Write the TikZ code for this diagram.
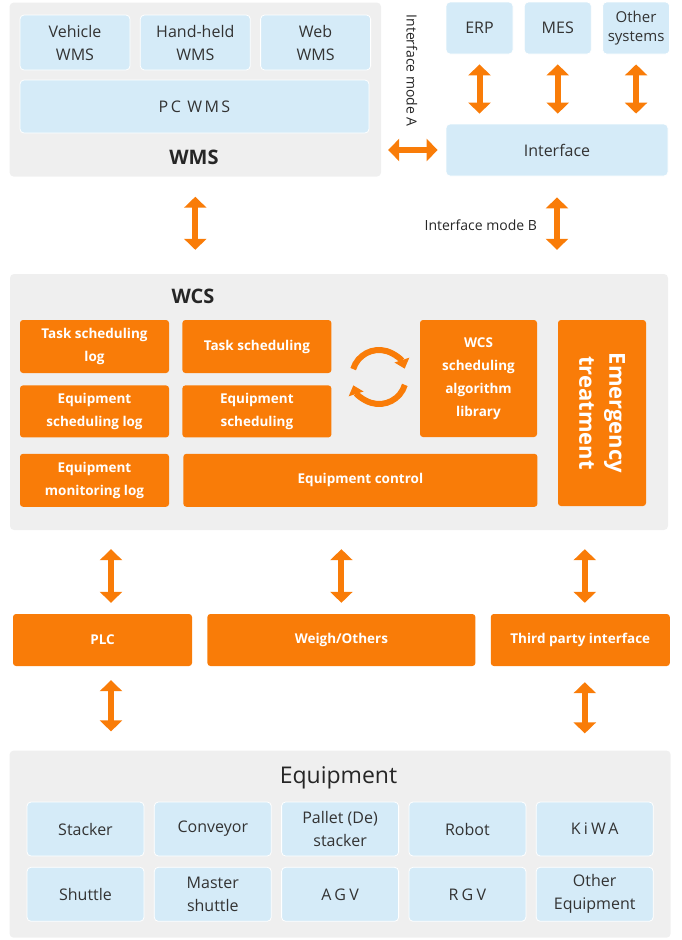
\documentclass[tikz,border=0pt]{standalone}
\usepackage{fontspec}
\setmainfont{Open Sans}
\usepackage{tikz}
\usetikzlibrary{arrows.meta}
\usetikzlibrary{fit,positioning, backgrounds}
\definecolor{paleblue}{HTML}{D5EBF8}
\definecolor{panelgray}{HTML}{EFEFEF}
\definecolor{wcsorange}{HTML}{F97C08}
\definecolor{inktext}{HTML}{333333}

\begin{document}
\begin{tikzpicture}[x=1pt, y=-1pt, node distance=9.5pt]
	\tikzstyle{panel}=[rectangle, rounded corners=4pt, fill=panelgray]
	\tikzstyle{lbox}=[rectangle, rounded corners=4pt, fill=paleblue, draw=white, line width=0.8pt, text=inktext, align=center, inner sep=0pt, font=\fontsize{16}{23}\selectfont]
	\tikzstyle{obox}=[rectangle, rounded corners=3pt, fill=wcsorange, text=white, align=center, inner sep=0pt, font=\bfseries\fontsize{13.5}{23}\selectfont]
	\tikzstyle{paneltitle}=[inner sep=0pt, text=black!85, font=\bfseries\fontsize{20}{24}\selectfont]
	\tikzstyle{modelbl}=[inner sep=0pt, text=black!85, font=\fontsize{14}{16}\selectfont]
	\tikzstyle{dlink}=[{Triangle[width=22pt,length=11pt]}-{Triangle[width=22pt,length=11pt]}, line width=6pt, draw=wcsorange]
	\tikzstyle{cycarrow}=[-{Triangle[width=15pt,length=9pt]}, line width=6pt, draw=wcsorange]
	
	\useasboundingbox (0,0) rectangle (682,940);
	
	% WMS
	\node[lbox, minimum width=110pt, minimum height=55pt] (veh) at (75,42.5) {Vehicle\\WMS};
	\node[lbox, minimum width=110pt, minimum height=55pt] (hand) [right=of veh] {Hand-held\\WMS};
	\node[lbox, minimum width=110pt, minimum height=55pt] (web) [right=of hand] {Web\\WMS};
	\node[lbox, minimum width=349pt, minimum height=53pt] (pc) at (194.5,106.5) {\addfontfeature{LetterSpace=15}PC WMS};
	\node[paneltitle] (wmslbl) at (194,157) {WMS};
	\begin{scope}[on background layer]
		\node[panel, inner xsep=10pt, inner ysep=12pt, fit= (veh) (web) (pc) (wmslbl)] (wms) {};
	\end{scope}
	
	% outside systems
	\node[lbox, minimum width=67pt, minimum height=52pt] (erp) at (479.5,28) {ERP};
	\node[lbox, minimum width=67pt, minimum height=52pt] (mes) [right=10.5pt of erp] {MES};
	\node[lbox, minimum width=67pt, minimum height=52pt, font=\fontsize{15}{19}\selectfont] (other) [right=10.5pt of mes] {Other\\systems};
	\node[lbox, minimum width=222pt, minimum height=52pt] (iface) at (557,150) {Interface};
	\node[modelbl, rotate=-90, anchor=east] (modeA) at (412,127) {Interface mode A};
	
	% WCS
	\node[panel, minimum width=658pt, minimum height=256pt] (wcs) at (339,402) {};
	\node[paneltitle] (wcslbl) at (193,296) {WCS};
	
	\node[obox, minimum width=149pt, minimum height=53pt] (tslog) at (94.5,346.5) {Task scheduling\\log};
	\node[obox, minimum width=149pt, minimum height=53pt] (ts) [right=13pt of tslog] {Task scheduling};
	\node[obox, minimum width=149pt, minimum height=52pt] (eslog) [below=12pt of tslog] {Equipment\\scheduling log};
	\node[obox, minimum width=149pt, minimum height=52pt] (es) [right=13pt of eslog] {Equipment\\scheduling};
	\node[obox, minimum width=149pt, minimum height=53pt] (emlog) [below=16pt of eslog] {Equipment\\monitoring log};
	\node[obox, minimum width=354pt, minimum height=53pt] (ectrl) [right=14pt of emlog] {Equipment control};
	\node[obox, minimum width=117pt, minimum height=117pt] (alg) at (478.5,378.5) {WCS\\scheduling\\algorithm\\library};
	\node[obox, minimum width=186pt, minimum height=88pt, rotate=-90, font=\bfseries\fontsize{22}{30}\selectfont] (emerg) at (602,413) {Emergency\\treatment};
	
	\coordinate (cyc) at (379,377);
	\draw[cycarrow] ([shift={(-163:27)}]cyc) arc[start angle=-163, end angle=-18, radius=27];
	\draw[cycarrow] ([shift={(17:27)}]cyc) arc[start angle=17, end angle=162, radius=27];
	
	% drivers
	\node[obox, minimum width=179pt, minimum height=52pt] (plc) at (102.5,640) {PLC};
	\node[obox, minimum width=268pt, minimum height=52pt] (weigh) [right=15pt of plc] {Weigh/Others};
	\node[obox, minimum width=179pt, minimum height=52pt] (third) [right=15pt of weigh] {Third party interface};
	
	% Equipment
	\node[lbox, minimum width=117pt, minimum height=54pt] (stacker) at (85.5,829) {Stacker};
	\node[lbox, minimum width=117pt, minimum height=54pt] (conveyor) [right=of stacker] {Conveyor};
	\node[lbox, minimum width=117pt, minimum height=54pt] (pallet) [right=of conveyor] {Pallet (De)\\stacker};
	\node[lbox, minimum width=117pt, minimum height=54pt] (robot) [right=of pallet] {Robot};
	\node[lbox, minimum width=117pt, minimum height=54pt] (kiwa) [right=of robot] {\addfontfeature{LetterSpace=20}KiWA};
	
	\node[lbox, minimum width=117pt, minimum height=54pt] (shuttle) [below=10.5pt of stacker] {Shuttle};
	\node[lbox, minimum width=117pt, minimum height=54pt] (master) [right=of shuttle] {Master\\shuttle};
	\node[lbox, minimum width=117pt, minimum height=54pt] (agv) [right=of master] {\addfontfeature{LetterSpace=20}AGV};
	\node[lbox, minimum width=117pt, minimum height=54pt] (rgv) [right=of agv] {\addfontfeature{LetterSpace=20}RGV};
	\node[lbox, minimum width=117pt, minimum height=54pt] (othereq) [right=of rgv] {Other\\Equipment};
	
	\node[paneltitle, font=\fontsize{23}{26}\selectfont] (eqlbl) at (338.5,778) {Equipment};
	\begin{scope}[on background layer]
		\node[panel, inner xsep=17pt, inner ysep=16pt, fit= (stacker) (othereq) (eqlbl)] (equip) {};
	\end{scope}
	
	\coordinate (plcup) at ([xshift=8.5pt]plc.north);
	\coordinate (plcdown) at ([xshift=8.5pt]plc.south);
	\coordinate (thirdup) at ([xshift=4.5pt]third.north);
	\coordinate (thirddown) at ([xshift=4.5pt]third.south);
	
	\path (erp.south) edge [dlink, shorten <=10pt, shorten >=10pt] (erp.south |- iface.north)
	(mes.south) edge [dlink, shorten <=10pt, shorten >=10pt] (mes.south |- iface.north)
	(other.south) edge [dlink, shorten <=10pt, shorten >=10pt] (other.south |- iface.north)
	
	(wms.east |- iface.west) edge [dlink, shorten <=7pt, shorten >=8pt] (iface.west)
	
	(wms.south) edge [dlink, shorten <=20pt, shorten >=24pt] (wms.south |- wcs.north)
	(iface.south) edge [dlink, shorten <=21pt, shorten >=24pt] node[modelbl, left=17pt] {Interface mode B} (iface.south |- wcs.north)
	
	(plcup |- wcs.south) edge [dlink, shorten <=19pt, shorten >=11pt] (plcup)
	(weigh.north |- wcs.south) edge [dlink, shorten <=19pt, shorten >=11pt] (weigh.north)
	(thirdup |- wcs.south) edge [dlink, shorten <=19pt, shorten >=11pt] (thirdup)
	
	(plcdown) edge [dlink, shorten <=14pt, shorten >=19pt] (plcdown |- equip.north)
	(thirddown) edge [dlink, shorten <=16pt, shorten >=17pt] (thirddown |- equip.north);
	
\end{tikzpicture}
\end{document}
